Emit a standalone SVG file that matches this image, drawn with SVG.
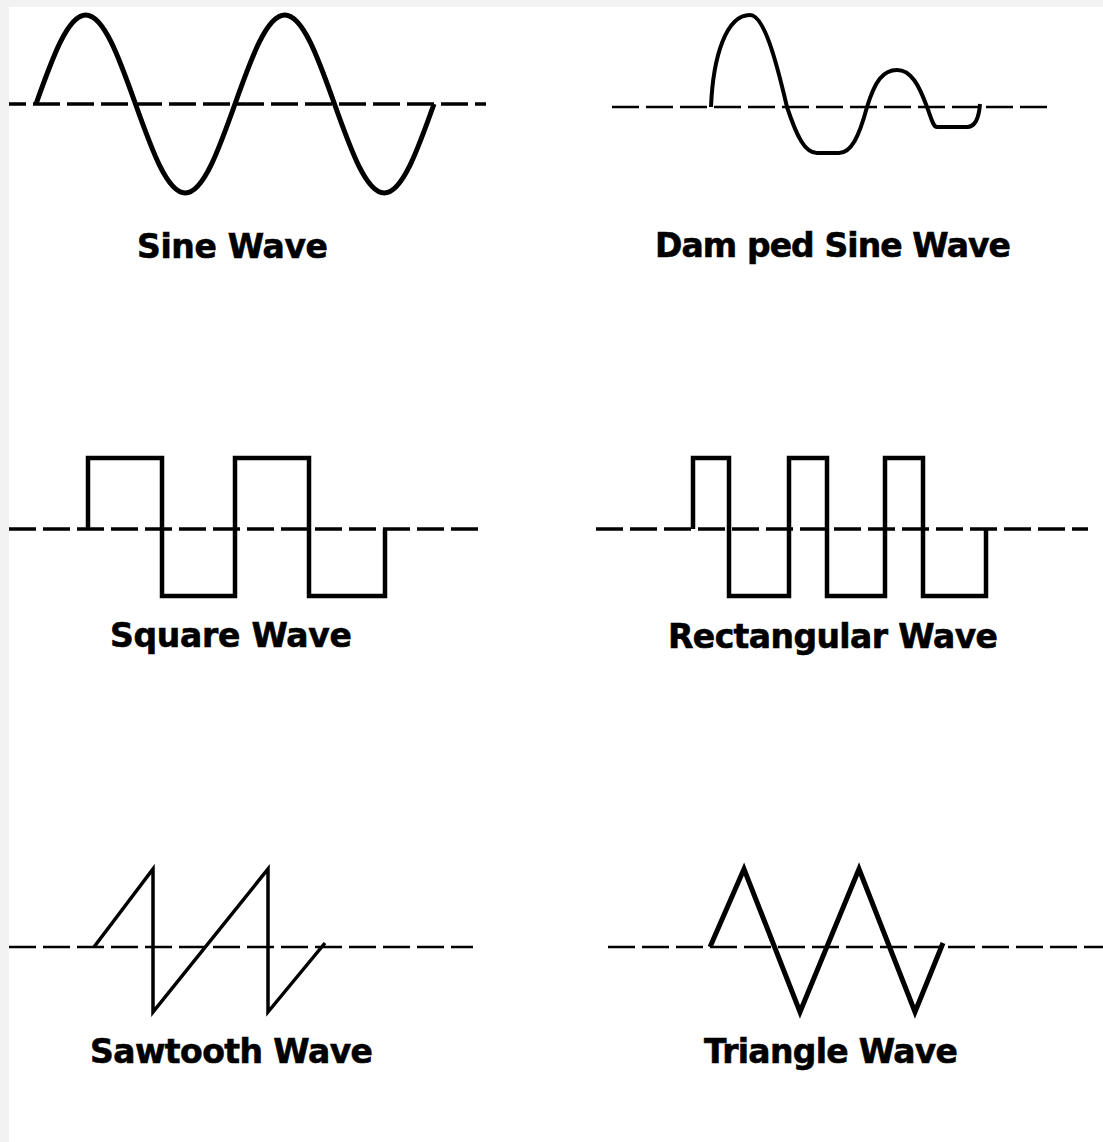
<svg xmlns="http://www.w3.org/2000/svg" width="1103" height="1142" viewBox="0 0 1103 1142">
<style>
.axis{stroke:#000;stroke-dasharray:27 7;fill:none}
.thick{stroke-width:3.5}
.thin{stroke-width:2.5}
.wave{stroke:#000;fill:none;stroke-linejoin:miter;stroke-linecap:butt}
.lbl{font-family:"DejaVu Sans","Liberation Sans",sans-serif;font-weight:bold;font-size:33px;fill:#000;stroke:#000;stroke-width:0.6}
</style>
<rect x="0" y="0" width="1103" height="1142" fill="#f2f2f2"/>
<rect x="9" y="7" width="1094" height="1135" fill="#ffffff"/>

<g id="sine">
<line class="axis thick" x1="9" y1="104" x2="486" y2="104" stroke-dashoffset="10"/>
<path class="wave" stroke-width="5" d="M36,104 c16.2,-45.6 31.7,-89 49.75,-89 c18.05,0 33.55,43.4 49.75,89 c16.2,45.6 31.7,89 49.75,89 c18.05,0 33.55,-43.4 49.75,-89 c16.2,-45.6 31.7,-89 49.75,-89 c18.05,0 33.55,43.4 49.75,89 c16.2,45.6 31.7,89 49.75,89 c18.05,0 33.55,-43.4 49.75,-89"/>
<text class="lbl" x="137" y="258" textLength="191" lengthAdjust="spacing">Sine Wave</text>
</g>

<g id="damped-sine">
<line class="axis thin" x1="612" y1="107" x2="1051" y2="107"/>
<path class="wave" stroke-width="4" d="M711,107 c2,-50 15,-92 39,-92 c14,0 26,45 37,92 c10,30 18,46 30,46 h22 c12,0 20,-16 28,-46 c8,-26 16,-37 30,-37 c14,0 22,15 30,37 c4,10 6,20 10,20 h30 c8,0 12,-10 13,-23"/>
<text class="lbl" x="655" y="257" textLength="356" lengthAdjust="spacing">Dam ped Sine Wave</text>
</g>

<g id="square">
<line class="axis thick" x1="9" y1="529" x2="480" y2="529"/>
<path class="wave" stroke-width="4.5" d="M88,529 V458 H162 V596 H235 V458 H309 V596 H385 V529"/>
<text class="lbl" x="110" y="647" textLength="242" lengthAdjust="spacing">Square Wave</text>
</g>

<g id="rectangular">
<line class="axis thick" x1="596" y1="529" x2="1088" y2="529"/>
<path class="wave" stroke-width="4.5" d="M693,529 V458 H729 V596 H789 V458 H827 V596 H885 V458 H923 V596 H986 V529"/>
<text class="lbl" x="668" y="648" textLength="330" lengthAdjust="spacing">Rectangular Wave</text>
</g>

<g id="sawtooth">
<line class="axis thin" x1="9" y1="947" x2="473" y2="947"/>
<path class="wave" stroke-width="3.5" d="M94,947 L153,869 V1012 L268,869 V1012 L325,943"/>
<text class="lbl" x="90" y="1063" textLength="283" lengthAdjust="spacing">Sawtooth Wave</text>
</g>

<g id="triangle">
<line class="axis thin" x1="608" y1="947" x2="1103" y2="947"/>
<path class="wave" stroke-width="5" d="M710,947 L744,869 L800,1012 L859,869 L915,1012 L943,943"/>
<text class="lbl" x="704" y="1063" textLength="254" lengthAdjust="spacing">Triangle Wave</text>
</g>
</svg>
